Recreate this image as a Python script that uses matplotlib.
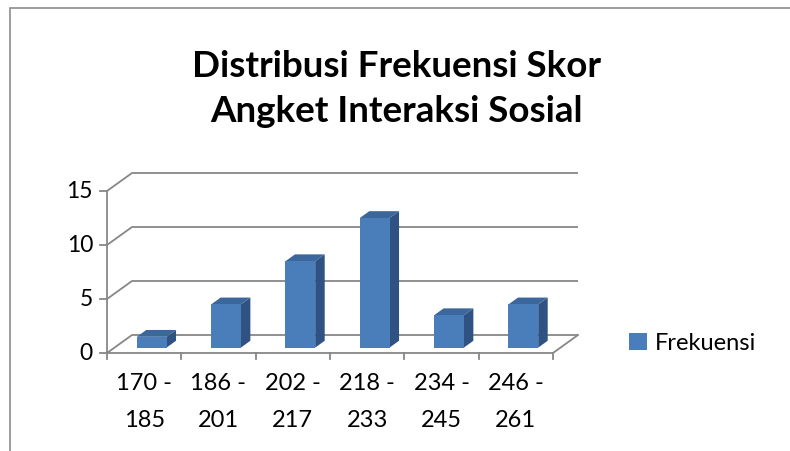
import matplotlib
matplotlib.use("Agg")
import matplotlib.pyplot as plt
from matplotlib.patches import Rectangle, Polygon

# data
kelas = ["170 -\n185", "186 -\n201", "202 -\n217", "218 -\n233", "234 -\n245", "246 -\n261"]
frekuensi = [1, 4, 8, 12, 3, 4]
y_ticks = [0, 5, 10, 15]

plt.rcParams['font.family'] = ['Lato', 'DejaVu Sans']

W, H = 790, 452
fig = plt.figure(figsize=(W / 100, H / 100), dpi=100)

# front plane of the 3d box, in pixels
x0px, x1px, y0px, y1px = 107, 553, 354, 192
ax = fig.add_axes([x0px / W, 1 - y0px / H, (x1px - x0px) / W, (y0px - y1px) / H])
n = len(frekuensi)
ax.set_xlim(0, n)
ax.set_ylim(0, 15)
ax.axis('off')

# depth offset (full depth) in data units
ux = (x1px - x0px) / n
uy = (y0px - y1px) / 15
DX = 25 / ux
DY = 18 / uy

grid_c = '#878787'
lw = 1.3

# back gridlines with left wall diagonals
for g in y_ticks:
    ax.plot([0, DX, n + DX], [g, g + DY, g + DY], color=grid_c, lw=lw, clip_on=False, solid_capstyle='butt')
    ax.plot([-7 / ux, 0], [g, g], color=grid_c, lw=lw, clip_on=False)
    ax.text(-14 / ux, g, str(g), ha='right', va='center', fontsize=16.5)

# floor front edge, right edge and value axis
ax.plot([0, n, n + DX], [0, 0, DY], color=grid_c, lw=lw, clip_on=False)
ax.plot([0, 0], [0, 15], color=grid_c, lw=lw, clip_on=False)
for i in range(n + 1):
    ax.plot([i, i], [0, -6 / uy], color=grid_c, lw=lw, clip_on=False)

for i, lab in enumerate(kelas):
    ax.text(i + 0.5, -19 / uy, lab, ha='center', va='top', fontsize=17, linespacing=1.95)

# bars
c_front = '#4A7EBB'
c_side = '#2F5283'
c_top = '#3B679D'
d0, d1 = 0.3, 0.68
bw = 0.4
for i, v in enumerate(frekuensi):
    xl = i + 0.5 - bw / 2
    xr = xl + bw
    ax.add_patch(Polygon([(xr + d0 * DX, d0 * DY), (xr + d1 * DX, d1 * DY),
                          (xr + d1 * DX, v + d1 * DY), (xr + d0 * DX, v + d0 * DY)],
                         closed=True, facecolor=c_side, edgecolor='none', clip_on=False, zorder=3))
    ax.add_patch(Polygon([(xl + d0 * DX, v + d0 * DY), (xr + d0 * DX, v + d0 * DY),
                          (xr + d1 * DX, v + d1 * DY), (xl + d1 * DX, v + d1 * DY)],
                         closed=True, facecolor=c_top, edgecolor='none', clip_on=False, zorder=3))
    ax.add_patch(Rectangle((xl + d0 * DX, d0 * DY), bw, v, facecolor=c_front,
                           edgecolor='none', clip_on=False, zorder=4))

# legend
handle = Rectangle((0, 0), 1, 1, facecolor=c_front, edgecolor='none')
fig.legend([handle], ['Frekuensi'], loc='center left', bbox_to_anchor=(608 / W, 1 - 344 / H),
           frameon=False, fontsize=17, handlelength=0.75, handleheight=0.75, handletextpad=0.35)

# title
fig.text(396 / W, 1 - 89 / H, 'Distribusi Frekuensi Skor\nAngket Interaksi Sosial',
         ha='center', va='center', fontsize=26.5, fontweight='bold', linespacing=1.45)

# chart border (only top and left visible)
fig.patches.append(Rectangle((10 / W, -0.1), 1.1, 1.1 - 8.5 / H, transform=fig.transFigure,
                             fill=False, edgecolor='#8c8c8c', lw=1.2))

fig.savefig('out.png', dpi=100)
